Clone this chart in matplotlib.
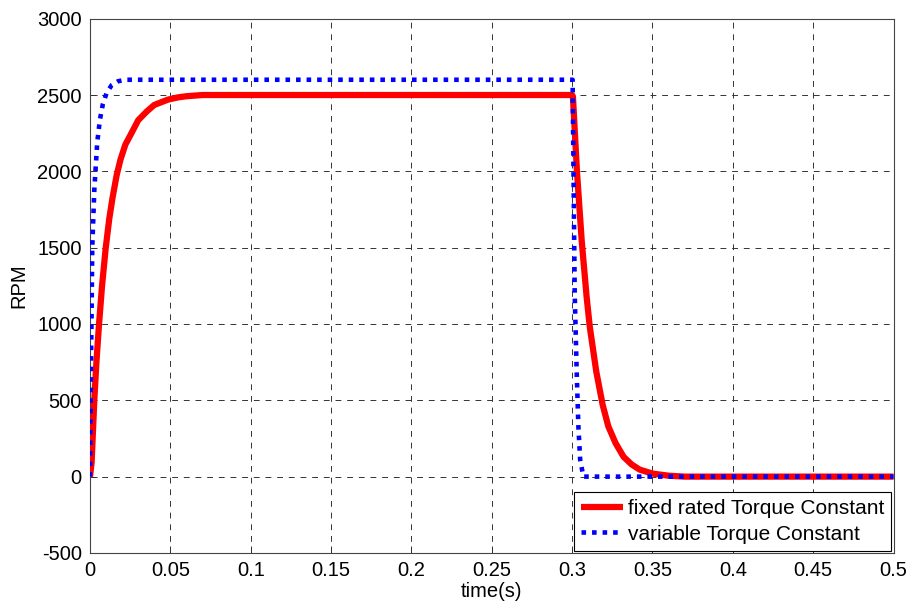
import numpy as np
import matplotlib
matplotlib.use("Agg")
import matplotlib.pyplot as plt

t_fixed = [0, 0.001, 0.0027, 0.004, 0.0056, 0.0075, 0.0098, 0.012, 0.014,
           0.0166, 0.019, 0.022, 0.026, 0.03, 0.0353, 0.04, 0.0486, 0.055,
           0.06, 0.07, 0.3, 0.3005, 0.303, 0.306, 0.309, 0.311, 0.315, 0.319,
           0.3225, 0.327, 0.332, 0.337, 0.342, 0.35, 0.36, 0.37, 0.5]
rpm_fixed = [0, 92, 505, 750, 996, 1250, 1500, 1690, 1825,
             1975, 2078, 2175, 2254, 2335, 2392, 2435, 2470, 2485,
             2492, 2500, 2500, 2490, 2000, 1540, 1180, 980, 690, 470,
             330, 220, 130, 80, 46, 20, 6, 0, 0]

t_var = [0, 0.0004, 0.001, 0.0014, 0.0027, 0.0045, 0.0062, 0.008, 0.0104,
         0.0135, 0.0174, 0.022, 0.3, 0.3003, 0.3016, 0.3028, 0.3039, 0.305,
         0.307, 0.5]
rpm_var = [0, 500, 1075, 1500, 1880, 2190, 2340, 2440, 2515,
           2565, 2590, 2600, 2600, 2600, 1205, 700, 328, 111,
           0, 0]

x_ticks = [0, 0.05, 0.1, 0.15, 0.2, 0.25, 0.3, 0.35, 0.4, 0.45, 0.5]
x_labels = ["0", "0.05", "0.1", "0.15", "0.2", "0.25", "0.3", "0.35", "0.4", "0.45", "0.5"]
y_ticks = [-500, 0, 500, 1000, 1500, 2000, 2500, 3000]

plt.rcParams["font.family"] = ["Liberation Sans", "DejaVu Sans"]
plt.rcParams["axes.unicode_minus"] = False

fig = plt.figure(figsize=(9.09, 6.03), dpi=100)
ax = fig.add_axes([0.099, 0.083, 0.884, 0.886])

ax.plot(t_fixed, rpm_fixed, color="#ff0000", lw=4.5, solid_capstyle="butt",
        solid_joinstyle="round", label="fixed rated Torque Constant", zorder=3)
ax.plot(t_var, rpm_var, color="#0000ff", lw=3.3, linestyle=(0, (1, 1.3)),
        label="variable Torque Constant", zorder=4)

ax.set_xlim(0, 0.5)
ax.set_ylim(-500, 3000)
ax.set_xticks(x_ticks)
ax.set_xticklabels(x_labels)
ax.set_yticks(y_ticks)
ax.grid(True, color="#333333", linestyle=(0, (6, 6)), lw=0.7)
ax.set_axisbelow(True)
ax.tick_params(direction="in", length=5, width=0.7, labelsize=14.5, pad=6,
               top=False, right=False, colors="#333333", labelcolor="black")
for s in ax.spines.values():
    s.set_color("#444444")
    s.set_linewidth(0.8)

ax.set_xlabel("time(s)", fontsize=14.5, labelpad=1)
ax.set_ylabel("RPM", fontsize=14.5, labelpad=6)

leg = ax.legend(loc="lower right", fontsize=15, borderaxespad=0.1,
                fancybox=False, framealpha=1, edgecolor="black",
                handlelength=2.0, handletextpad=0.25, borderpad=0.35,
                labelspacing=0.3)
leg.get_frame().set_linewidth(0.8)

fig.savefig("out.png", dpi=100)
